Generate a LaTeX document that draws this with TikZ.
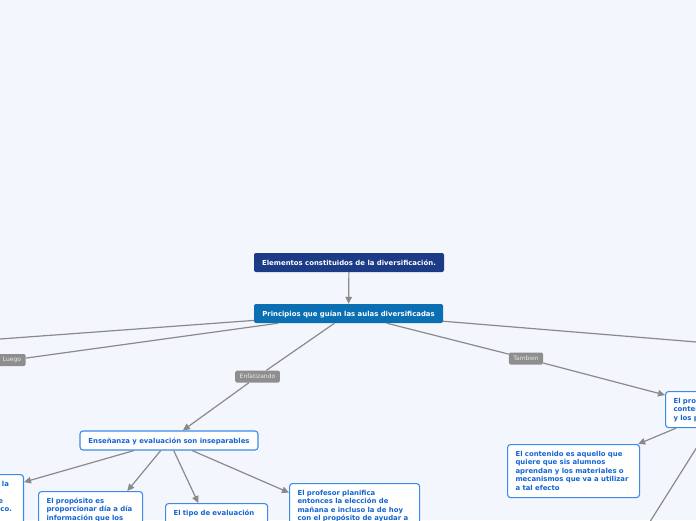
\documentclass[tikz,border=0pt]{standalone}
\usepackage{fontspec}
\setmainfont{DejaVu Sans}
\usetikzlibrary{arrows.meta}
\definecolor{Fondo}{HTML}{F3F6FD}
\definecolor{Marino}{HTML}{1B3B87}
\definecolor{Azul}{HTML}{0A6FB3}
\definecolor{Borde}{HTML}{3C8BE6}
\definecolor{Letra}{HTML}{1464D2}
\definecolor{Linea}{HTML}{8A8A8A}
\definecolor{Etiq}{HTML}{8E8E8E}

\begin{document}
\begin{tikzpicture}[x=1pt,y=-1pt,
  every node/.style={font=\fontsize{6.9}{8.5}\selectfont\bfseries},
  tema/.style={rounded corners=2pt,text=white,minimum height=19pt,inner sep=0pt,text height=5pt,text depth=0pt},
  hoja/.style={draw=Borde,line width=1.1pt,fill=white,rounded corners=3pt,text=Letra,align=left,inner xsep=8pt,inner ysep=6pt,text height=5.5pt},
  etq/.style={fill=Etiq,text=white!92!black,rounded corners=1.5pt,font=\fontsize{6}{7}\selectfont,inner xsep=4.5pt,inner ysep=3pt,text height=4.6pt,text depth=1.4pt},
  con/.style={draw=Linea,line width=1.2pt},
  flecha/.style={con,-{Triangle[length=7pt,width=6.5pt]}}]
  \useasboundingbox (0,0) rectangle (696,520);
  \fill[Fondo] (0,0) rectangle (696,520);
  \clip (0,0) rectangle (696,520);

  % temas centrales
  \node[tema,fill=Marino,minimum width=190pt] (elem) at (349,262.5) {Elementos constituidos de la diversificación.};
  \node[tema,fill=Azul,minimum width=189pt] (prin) at (348.5,313.5) {Principios que guían las aulas diversificadas};

  % subtemas
  \node[hoja,inner ysep=0pt,text depth=0pt,text height=5pt,minimum width=178pt,minimum height=19pt] (ense) at (169,440.5) {Enseñanza y evaluación son inseparables};
  \node[hoja,anchor=north east,align=right,text width=112pt,text depth=34.5pt] (izq) at (24,474) {la\rule{6.5pt}{0pt}\\\mbox{}\\e\rule{12.5pt}{0pt}\\co.\rule{3.5pt}{0pt}};
  \node[hoja,anchor=north west,text width=88pt,text depth=70.5pt] (prop) at (38,491) {El propósito es\\proporcionar día a día\\información que los};
  \node[hoja,anchor=north west,text width=86pt,text depth=59.5pt] (tipo) at (165,503) {El tipo de evaluación};
  \node[hoja,anchor=north west,text width=114pt,text depth=57.5pt] (prof) at (289,483) {El profesor planifica\\entonces la elección de\\mañana e incluso la de hoy\\con el propósito de ayudar a};
  \node[hoja,anchor=north west,text width=94pt,text depth=18.5pt] (der) at (665,391) {El profesor adapta el\\contenido, el proceso\\y los productos};
  \node[hoja,anchor=north west,text width=116pt,text depth=35.5pt] (cont) at (507,444) {El contenido es aquello que\\quiere que sis alumnos\\aprendan y los materiales o\\mecanismos que va a utilizar\\a tal efecto};

  % etiquetas
  \node[etq] (luego) at (12,360) {Luego};
  \node[etq] (enfa) at (257.5,376.5) {Enfatizando};
  \node[etq] (tamb) at (526,358.5) {Tambien};

  \coordinate (fueraA) at (-60,343.4);
  \coordinate (fueraB) at (-60,370);
  \coordinate (fueraC) at (760,347.2);
  \coordinate (fueraD) at (638.5,540);

  \draw[flecha] (elem) -- (prin);
  \draw[con] (prin) -- (fueraA);
  \draw[con] (prin) -- (luego) -- (fueraB);
  \draw[flecha] (prin) -- (enfa) -- (ense);
  \draw[flecha] (prin) -- (tamb) -- (der);
  \draw[con] (prin) -- (fueraC);
  \draw[flecha] (ense) -- (izq);
  \draw[flecha] (ense) -- (prop);
  \draw[flecha] (ense) -- (tipo);
  \draw[flecha] (ense) -- (prof);
  \draw[flecha] (der) -- (cont);
  \draw[con] (der) -- (fueraD);
\end{tikzpicture}
\end{document}
